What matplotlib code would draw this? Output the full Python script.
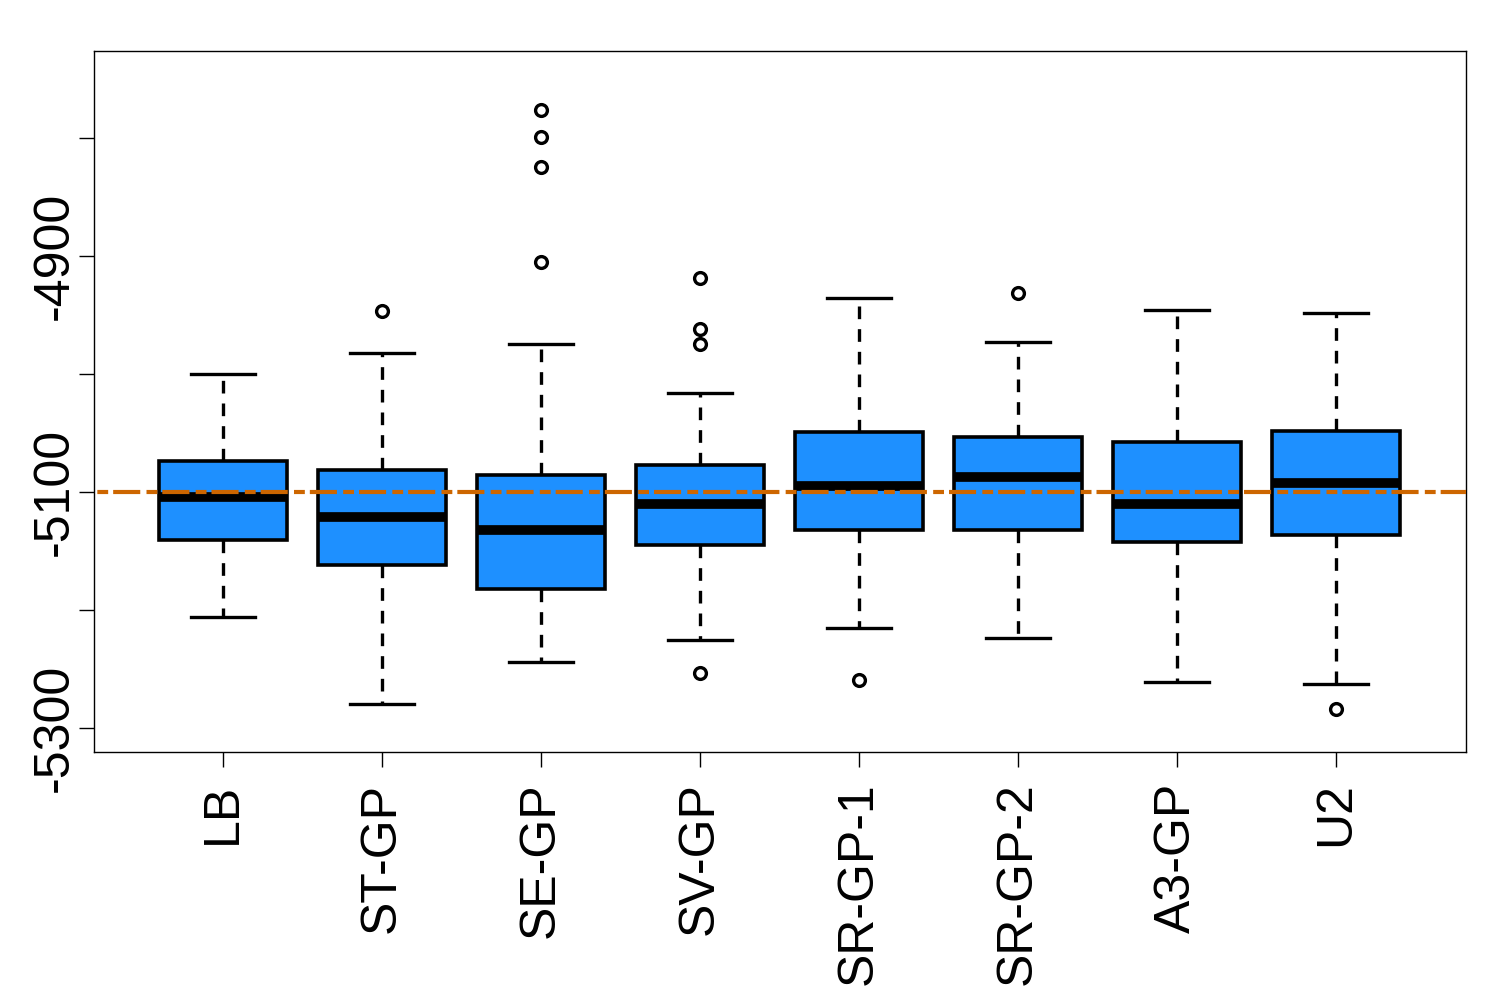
import matplotlib
matplotlib.use('Agg')
import matplotlib.pyplot as plt

plt.rcParams['font.family'] = ['Liberation Sans', 'DejaVu Sans']

# methods and box summaries
methods = ['LB', 'ST-GP', 'SE-GP', 'SV-GP', 'SR-GP-1', 'SR-GP-2', 'A3-GP', 'U2']
whislo = [-5206, -5280, -5244, -5225, -5215, -5224, -5261, -5263]
q1     = [-5141, -5162, -5182, -5145, -5132, -5132, -5142, -5136]
med    = [-5104, -5121, -5132, -5110, -5095, -5087, -5110, -5092]
q3     = [-5074, -5081, -5086, -5077, -5049, -5053, -5058, -5048]
whishi = [-5000, -4982, -4975, -5016, -4936, -4973, -4946, -4948]
fliers = [
    [],
    [-4947],
    [-4776, -4799, -4825, -4905],
    [-4919, -4962, -4975, -5253],
    [-5259],
    [-4931],
    [],
    [-5284],
]
ref_value = -5100
yticks = [-5300, -5200, -5100, -5000, -4900, -4800]
ytick_labels = ['-5300', '', '-5100', '', '-4900', '']

stats = []
for i in range(len(methods)):
    stats.append({'label': methods[i], 'whislo': whislo[i], 'q1': q1[i],
                  'med': med[i], 'q3': q3[i], 'whishi': whishi[i],
                  'fliers': fliers[i]})

fig = plt.figure(figsize=(15, 10), dpi=100)
ax = fig.add_axes([0.0627, 0.248, 0.9146, 0.701])

ax.bxp(stats, positions=range(1, len(methods) + 1), widths=0.81,
       patch_artist=True, showfliers=True,
       boxprops=dict(facecolor='#1E90FF', edgecolor='black', linewidth=2.6),
       medianprops=dict(color='black', linewidth=7, solid_capstyle='butt'),
       whiskerprops=dict(color='black', linewidth=2.4, dashes=(3.8, 3.0)),
       capprops=dict(color='black', linewidth=2.4),
       flierprops=dict(marker='o', markersize=8.5, markerfacecolor='none',
                       markeredgecolor='black', markeredgewidth=2.4))

line, = ax.plot([0, 10], [ref_value, ref_value], color='#CD6600', linewidth=3, zorder=5)
line.set_dashes((6.5, 1.5, 2.6, 1.2))

ax.set_xlim(0.189, 8.818)
ax.set_ylim(-5320.3, -4726.3)
ax.set_yticks(yticks)
ax.set_yticklabels(ytick_labels)
ax.set_xticks(range(1, len(methods) + 1))
ax.set_xticklabels(methods)

ax.tick_params(axis='both', labelsize=36, length=11, width=1, direction='out')
ax.tick_params(axis='y', labelrotation=90, pad=1)
ax.tick_params(axis='x', labelrotation=90, pad=11)
for lab in ax.get_yticklabels():
    lab.set_va('center')
for sp in ax.spines.values():
    sp.set_linewidth(1)

fig.savefig('out.png', dpi=100)
